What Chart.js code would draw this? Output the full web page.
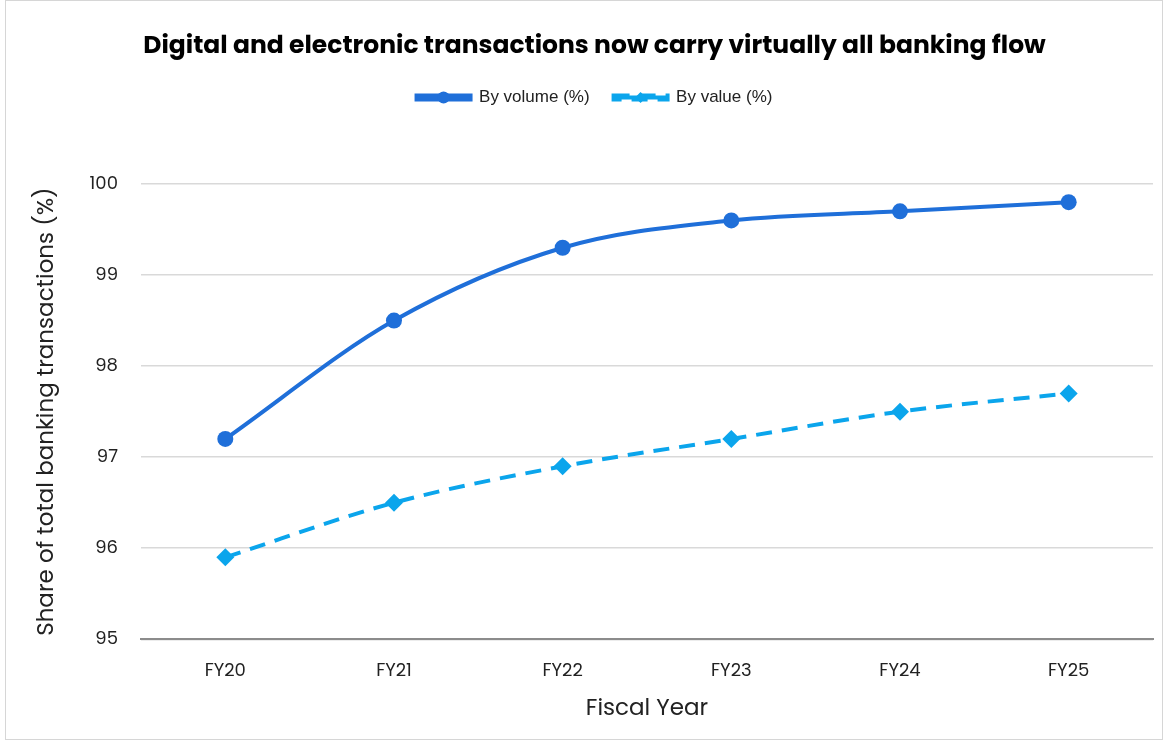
<!DOCTYPE html>
<html>
<head>
<meta charset="utf-8">
<script src="https://cdn.jsdelivr.net/npm/chart.js@4.4.1/dist/chart.umd.min.js"></script>
<style>
    html, body { margin: 0; padding: 0; background: #fff; }
    .marco {
        position: absolute; left: 5px; top: 0; width: 1158px; height: 740px;
        border: 1px solid #d6d6d6; box-sizing: border-box; background: #fff;
    }
    canvas { display: block; }
</style>
</head>
<body>
<div class="marco">
    <canvas id="grafico" width="1156" height="738"></canvas>
</div>
<script>
const anios = ["FY20", "FY21", "FY22", "FY23", "FY24", "FY25"];
const porVolumen = [97.2, 98.5, 99.3, 99.6, 99.7, 99.8];
const porValor = [95.9, 96.5, 96.9, 97.2, 97.5, 97.7];
const marcasY = [95, 96, 97, 98, 99, 100];

const azulFuerte = "#1f6fd9";
const azulClaro = "#0ba5ec";
const fuente = "'Poppins', 'Inter', 'Lato', sans-serif";
const anchoLinea = 54;

// deja mas aire debajo de la leyenda
const espacioLeyenda = {
    id: "espacioLeyenda",
    beforeInit(chart) {
        const ajusteOriginal = chart.legend.fit;
        chart.legend.fit = function () {
            ajusteOriginal.bind(chart.legend)();
            this.height += 68;
        };
    }
};

// dibuja el marcador encima de la linea de la leyenda
const marcadorLeyenda = {
    id: "marcadorLeyenda",
    afterDraw(chart) {
        const leyenda = chart.legend;
        if (!leyenda || !leyenda.legendHitBoxes) return;
        const ctx = chart.ctx;
        leyenda.legendHitBoxes.forEach((caja, i) => {
            const ds = chart.data.datasets[i];
            const cx = caja.left + anchoLinea / 2;
            const cy = caja.top + caja.height / 2;
            ctx.save();
            ctx.fillStyle = ds.borderColor;
            ctx.beginPath();
            if (ds.pointStyle === "rectRot") {
                ctx.moveTo(cx, cy - 5.5);
                ctx.lineTo(cx + 5.5, cy);
                ctx.lineTo(cx, cy + 5.5);
                ctx.lineTo(cx - 5.5, cy);
                ctx.closePath();
            } else {
                ctx.arc(cx, cy, 6, 0, Math.PI * 2);
            }
            ctx.fill();
            ctx.restore();
        });
    }
};

const ctx = document.getElementById("grafico").getContext("2d");

new Chart(ctx, {
    type: "line",
    data: {
        labels: anios,
        datasets: [
            {
                label: "By volume (%)",
                data: porVolumen,
                borderColor: azulFuerte,
                backgroundColor: azulFuerte,
                borderWidth: 4,
                pointStyle: "circle",
                pointRadius: 8,
                pointBackgroundColor: azulFuerte,
                pointBorderWidth: 0,
                cubicInterpolationMode: "monotone"
            },
            {
                label: "By value (%)",
                data: porValor,
                borderColor: azulClaro,
                backgroundColor: azulClaro,
                borderWidth: 4,
                borderDash: [16, 10],
                pointStyle: "rectRot",
                pointRadius: 9,
                pointBackgroundColor: azulClaro,
                pointBorderWidth: 0,
                cubicInterpolationMode: "monotone"
            }
        ]
    },
    options: {
        responsive: false,
        animation: false,
        layout: { padding: { left: 23, right: 2, top: 12, bottom: 19 } },
        plugins: {
            title: {
                display: true,
                text: "Digital and electronic transactions now carry virtually all banking flow",
                color: "#000",
                font: { family: fuente, size: 25, weight: "bold" },
                padding: { top: 19, bottom: 3 }
            },
            legend: {
                position: "top",
                labels: {
                    boxWidth: anchoLinea,
                    boxHeight: 4,
                    color: "#222",
                    font: { family: "'Liberation Sans Narrow', 'Liberation Sans', sans-serif", size: 17 },
                    padding: 24
                }
            },
            tooltip: { enabled: false }
        },
        scales: {
            x: {
                offset: true,
                grid: { display: false, drawTicks: false },
                border: { display: true, color: "#8c8c8c", width: 2 },
                ticks: { color: "#222", font: { family: fuente, size: 18 }, padding: 21 },
                title: {
                    display: true,
                    text: "Fiscal Year",
                    color: "#222",
                    font: { family: fuente, size: 23, lineHeight: 0.57 },
                    padding: { top: 0 }
                }
            },
            y: {
                min: 95,
                max: 100,
                afterBuildTicks: (eje) => { eje.ticks = marcasY.map(v => ({ value: v })); },
                grid: { color: "#d9d9d9", lineWidth: 1.5, drawTicks: false },
                border: { display: false },
                ticks: { color: "#222", font: { family: fuente, size: 18 }, padding: 23 },
                title: {
                    display: true,
                    text: "Share of total banking transactions (%)",
                    color: "#222",
                    font: { family: fuente, size: 23 },
                    padding: { bottom: 6 }
                }
            }
        }
    },
    plugins: [espacioLeyenda, marcadorLeyenda]
});
</script>
</body>
</html>
